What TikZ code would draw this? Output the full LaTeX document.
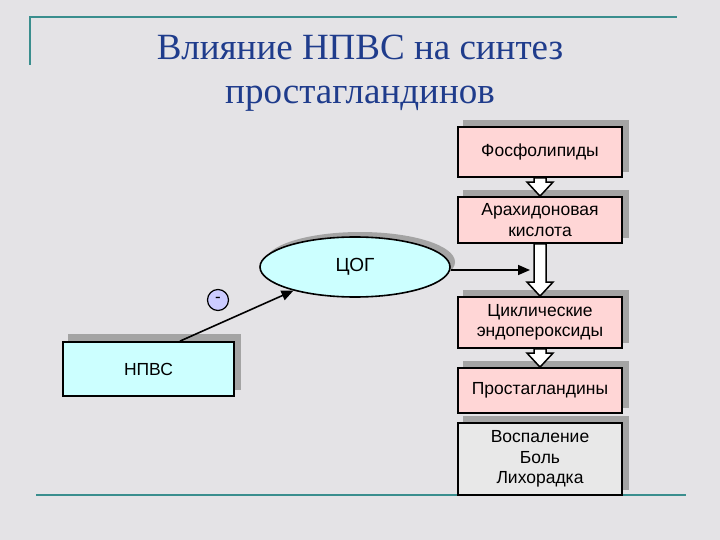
\documentclass[tikz,border=0pt]{standalone}
\usepackage{fontspec}
\setmainfont{Liberation Serif}
\setsansfont{Liberation Sans}
\usetikzlibrary{calc,shapes.geometric,arrows.meta}
\definecolor{bgc}{HTML}{E4E3E6}
\definecolor{tealc}{HTML}{3A8E8E}
\definecolor{titlec}{HTML}{1F3C8C}
\definecolor{pinkc}{HTML}{FFD6D6}
\definecolor{cyanc}{HTML}{CCFFFF}
\definecolor{lavc}{HTML}{CCCCFF}
\definecolor{grayboxc}{HTML}{E8E8E8}
\definecolor{shadc}{HTML}{A4A4A4}
\pgfdeclarelayer{bglayer}
\pgfdeclarelayer{shadlayer}
\pgfsetlayers{bglayer,shadlayer,main}
\tikzset{
  stepbox/.style={draw=black, line width=1.8pt, fill=pinkc, minimum width=164pt, align=center,
    font=\sffamily\fontsize{17.5}{20.5}\selectfont, inner sep=2pt},
  titletext/.style={font=\rmfamily\fontsize{37}{40}\selectfont, text=titlec, anchor=base},
  blockar/.style={draw=black, line width=1.5pt, fill=white, line join=miter},
  arshadow/.style={fill=shadc, draw=none},
  thinar/.style={line width=1.6pt, -{Triangle[length=12pt,width=10pt]}},
}
\newcommand\blkpath[2]{($(#1)+(-6,0)$) -- ($(#2)+(-6,-14)$) -- ($(#2)+(-13,-14)$) -- (#2) -- ($(#2)+(13,-14)$) -- ($(#2)+(6,-14)$) -- ($(#1)+(6,0)$) -- cycle}
\newcommand\boxshadow[1]{\fill[shadc] ($(#1.north west)+(6,-6)$) rectangle ($(#1.south east)+(6,-6)$);}
\begin{document}
\begin{tikzpicture}[x=1pt,y=-1pt]
\begin{pgfonlayer}{bglayer}
\fill[bgc] (0,0) rectangle (720,540);
\end{pgfonlayer}
\useasboundingbox (0,0) rectangle (720,540);
% decorative lines
\draw[tealc, line width=1.8pt] (30,65) -- (30,17) -- (677,17);
\draw[tealc, line width=1.8pt] (36,495) -- (686,495);
% title
\node[titletext] (t1) at (360,60) {Влияние НПВС на синтез};
\node[titletext] (t2) at (360,104) {простагландинов};
% boxes
\node[stepbox, minimum height=50pt] (b1) at (540,152) {Фосфолипиды};
\node[stepbox, minimum height=46pt] (b2) at (540,220) {Арахидоновая\\кислота};
\node[stepbox, minimum height=51pt] (b3) at (540,322.5) {Циклические\\эндопероксиды};
\node[stepbox, minimum height=45pt] (b4) at (540,390.5) {Простагландины};
\node[stepbox, fill=grayboxc, minimum height=72pt] (b5) at (540,459) {Воспаление\\Боль\\Лихорадка};
\node[draw=black, line width=1.8pt, fill=cyanc, minimum width=171pt, minimum height=54pt,
  font=\sffamily\fontsize{17.5}{20}\selectfont] (n) at (148.5,369) {НПВС};
\node[draw=black, line width=1.6pt, fill=cyanc, ellipse, minimum width=190pt, minimum height=60pt,
  inner sep=0pt, font=\sffamily\fontsize{19}{22}\selectfont] (cog) at (355,267) {ЦОГ};
\node[draw=black, line width=1.2pt, fill=lavc, circle, minimum size=21pt, inner sep=0pt,
  font=\sffamily\fontsize{17}{20}\selectfont] (minus) at (218,300) {-};
% connection points
\coordinate (s1) at (b1.south);
\coordinate (e1) at (b2.north);
\coordinate (s2) at (b2.south);
\coordinate (e2) at (b3.north);
\coordinate (s3) at (b3.south);
\coordinate (e3) at (b4.north);
\coordinate (cogstart) at ($(cog.east)+(0,3)$);
\coordinate (cogend) at ($(cogstart -| s2)+(-10,0)$);
% shadows
\begin{pgfonlayer}{shadlayer}
\boxshadow{b1}
\boxshadow{b2}
\boxshadow{b3}
\boxshadow{b4}
\boxshadow{b5}
\fill[shadc] ($(n.north west)+(6,-7)$) rectangle ($(n.south east)+(6,-7)$);
\fill[shadc] ($(cog.center)+(5,-5)$) ellipse [x radius=95, y radius=30];
\fill[arshadow, shift={(6,-6)}] \blkpath{s1}{e1};
\fill[arshadow, shift={(6,-6)}] \blkpath{s2}{e2};
\fill[arshadow, shift={(6,-6)}] \blkpath{s3}{e3};
\end{pgfonlayer}
% block arrows
\draw[blockar] \blkpath{s1}{e1};
\draw[blockar] \blkpath{s2}{e2};
\draw[blockar] \blkpath{s3}{e3};
% thin arrows
\draw[thinar] (cogstart) -- (cogend);
\draw[thinar] ($(n.north)+(31.5,0)$) -- (cog.201.6);
\end{tikzpicture}
\end{document}
